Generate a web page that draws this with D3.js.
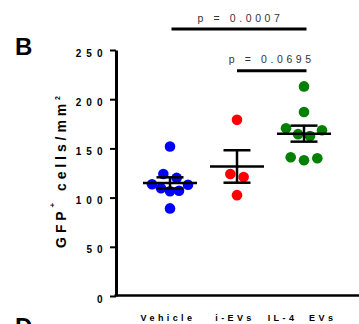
<!DOCTYPE html>
<html>
<head>
<meta charset="utf-8">
<script src="https://cdn.jsdelivr.net/npm/d3@7"></script>
<style>
  body { margin: 0; background: #fff; }
  svg { display: block; font-family: Arial, "Liberation Sans", sans-serif; }
</style>
</head>
<body>
<script>
// data
const groups = ["Vehicle", "i-EVs", "IL-4 EVs"];
const vehicle = [152, 124, 120, 113.5, 113, 109.5, 107, 106.5, 89];
const iEVs = [179, 124, 121, 102.5];
const il4EVs = [213, 187, 170.5, 168.5, 164.5, 162.5, 141, 140, 138];
const groupColors = ["#0000ff", "#ff0000", "#008000"];
const yTicks = [0, 50, 100, 150, 200, 250];
const comparisons = [["Vehicle", "IL-4 EVs"], ["i-EVs", "IL-4 EVs"]];
const pLabels = ["p = 0.0007", "p = 0.0695"];

const svgSize = { width: 359, height: 324 };
const plot = { left: 116, top: 50, bottom: 296 };

const svg = d3.select('body')
    .append('svg')
    .attr('width', svgSize.width)
    .attr('height', svgSize.height);

const y = d3.scaleLinear()
    .domain([0, 250])
    .range([plot.bottom, plot.top]);
const x = d3.scalePoint()
    .domain(groups)
    .range([170, 304]);

// panel letters ("D" belongs to the next panel, cut by the frame)
svg.append('text')
    .attr('x', 15).attr('y', 55)
    .attr('font-size', 24).attr('font-weight', 'bold')
    .text('B');
svg.append('text')
    .attr('x', 15).attr('y', 335)
    .attr('font-size', 24).attr('font-weight', 'bold')
    .text('D');

// y axis
const yAxis = d3.axisLeft(y)
    .tickValues(yTicks)
    .tickSize(6)
    .tickSizeOuter(0)
    .tickPadding(2.5);
const gy = svg.append('g')
    .attr('transform', `translate(${plot.left}, 0)`)
    .call(yAxis);
gy.select('.domain').attr('stroke', '#000').attr('stroke-width', 3);
gy.selectAll('.tick line').attr('stroke', '#000').attr('stroke-width', 2);
gy.selectAll('.tick text')
    .attr('dy', '0.6em')
    .attr('font-size', 10)
    .attr('font-weight', 'bold')
    .attr('letter-spacing', 5)
    .attr('font-family', 'Arial, "Liberation Sans", sans-serif')
    .attr('fill', '#000');

// x axis line (no ticks)
svg.append('line')
    .attr('x1', plot.left - 1.5).attr('x2', svgSize.width)
    .attr('y1', plot.bottom - 0.5).attr('y2', plot.bottom - 0.5)
    .attr('stroke', '#000').attr('stroke-width', 2.5);

svg.append('g')
    .selectAll('text')
    .data(groups)
    .enter()
    .append('text')
    .attr('x', d => x(d) - 2)
    .attr('y', 321)
    .attr('text-anchor', 'middle')
    .attr('font-size', 9)
    .attr('font-weight', 'bold')
    .attr('letter-spacing', 3.4)
    .attr('xml:space', 'preserve')
    .text(d => d === "IL-4 EVs" ? "IL-4  EVs" : d);

// y label
const yLabel = svg.append('text')
    .attr('transform', 'translate(65.5, 170) rotate(-90)')
    .attr('text-anchor', 'middle')
    .attr('font-size', 14)
    .attr('font-weight', 'bold')
    .attr('letter-spacing', 3.9);
yLabel.append('tspan').text('GFP');
yLabel.append('tspan').attr('font-size', 8).attr('dy', -11).text('+');
yLabel.append('tspan').attr('dy', 11).text(' cells/mm');
yLabel.append('tspan').attr('font-size', 7).attr('dy', -6).text('2');

// scatter layout: rows of close values spread symmetrically, outer points first
function swarm(values) {
    const pts = values.map(v => ({ v })).sort((a, b) => b.v - a.v);
    const rows = [];
    for (const p of pts) {
        const row = rows[rows.length - 1];
        if (row && row[0].v - p.v <= 9) row.push(p);
        else rows.push([p]);
    }
    for (const row of rows) {
        const n = row.length;
        const step = n > 1 ? Math.min(13.3, 36 / (n - 1)) : 0;
        const slots = d3.range(n).map(i => (i - (n - 1) / 2) * step);
        let lo = 0, hi = n - 1;
        row.forEach((p, k) => { p.dx = k % 2 === 0 ? slots[lo++] : slots[hi--]; });
    }
    return pts;
}

const series = [vehicle, iEVs, il4EVs];
series.forEach((values, i) => {
    const g = groups[i];
    const cx = x(g);
    svg.append('g')
        .selectAll('circle')
        .data(swarm(values))
        .enter()
        .append('circle')
        .attr('cx', d => cx + d.dx)
        .attr('cy', d => y(d.v))
        .attr('r', 5.3)
        .attr('fill', groupColors[i]);

    const mean = d3.mean(values);
    const sem = d3.deviation(values) / Math.sqrt(values.length);
    const eb = svg.append('g').attr('stroke', '#000').attr('stroke-width', 2.5);
    eb.append('line')
        .attr('x1', cx - 27).attr('x2', cx + 27)
        .attr('y1', y(mean)).attr('y2', y(mean));
    eb.append('line')
        .attr('x1', cx).attr('x2', cx)
        .attr('y1', y(mean + sem)).attr('y2', y(mean - sem));
    [mean + sem, mean - sem].forEach(v => {
        eb.append('line')
            .attr('x1', cx - 13.5).attr('x2', cx + 13.5)
            .attr('y1', y(v)).attr('y2', y(v));
    });
});

// significance brackets
const bracketY = [29, 70.7];
comparisons.forEach((c, i) => {
    const x1 = x(c[0]) + (i === 0 ? 1.5 : 0);
    const x2 = x(c[1]) + 2.5;
    svg.append('line')
        .attr('x1', x1).attr('x2', x2)
        .attr('y1', bracketY[i]).attr('y2', bracketY[i])
        .attr('stroke', '#000').attr('stroke-width', 3);
    svg.append('text')
        .attr('x', (x1 + x2) / 2 + (i === 0 ? 1.5 : 0))
        .attr('y', bracketY[i] - 7.5)
        .attr('text-anchor', 'middle')
        .attr('font-size', 10.5)
        .attr('letter-spacing', 3.6)
        .attr('fill', '#333')
        .text(pLabels[i]);
});
</script>
</body>
</html>
